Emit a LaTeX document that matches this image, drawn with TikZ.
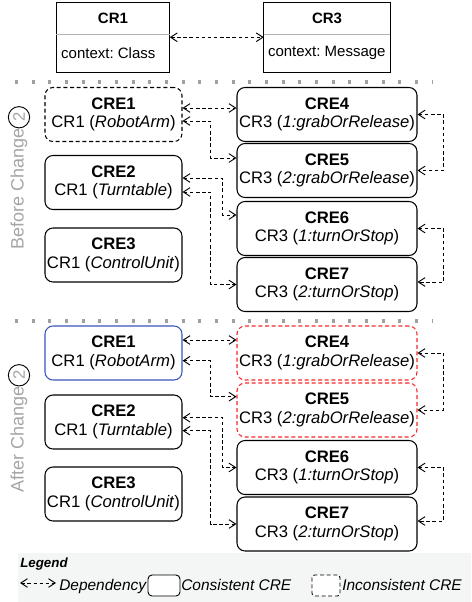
\documentclass[tikz,border=0pt]{standalone}
\usepackage{fontspec}
\setmainfont{Liberation Sans}
\frenchspacing
\usetikzlibrary{arrows.meta}
\usetikzlibrary{calc}
\definecolor{phasegray}{RGB}{165,165,165}
\definecolor{sepgray}{RGB}{160,160,160}
\definecolor{legendbg}{RGB}{244,245,245}
\definecolor{selblue}{RGB}{55,85,185}
\definecolor{errred}{RGB}{245,40,40}
\tikzset{
    dep/.style={
        draw, line width=0.7pt, dash pattern=on 2.6pt off 2pt,
        {Straight Barb[length=5pt,width=6.5pt]}-{Straight Barb[length=5pt,width=6.5pt]}
    },
    cre/.style={
        draw, rounded corners=6pt, line width=0.8pt, align=center,
        minimum height=40.5pt, inner sep=0pt,
        font=\fontsize{12.5}{14}\selectfont
    },
    creleft/.style={cre, minimum width=102.75pt},
    creright/.style={cre, minimum width=135pt},
    inconsistent/.style={dash pattern=on 3pt off 2pt},
    crhead/.style={minimum height=23.25pt, inner sep=0pt,
        font=\fontsize{11.25}{13}\selectfont\bfseries},
    crbody/.style={anchor=west, inner xsep=3.5pt, inner ysep=0pt,
        font=\fontsize{11.25}{13}\selectfont},
    phase/.style={rotate=90, inner sep=0pt, text=phasegray,
        font=\fontsize{13.5}{13.5}\selectfont},
    stepnum/.style={rotate=90, circle, draw, line width=0.7pt, inner sep=0pt,
        minimum size=16pt, text=phasegray, font=\fontsize{12.5}{12.5}\selectfont},
    sep/.style={draw=sepgray, line width=2.3pt, dash pattern=on 2.3pt off 10.2pt},
    legtxt/.style={inner sep=0pt, font=\fontsize{11.6}{12}\selectfont\itshape},
    legbox/.style={draw, fill=white, line width=0.7pt, minimum width=24pt,
        minimum height=15.75pt, inner sep=0pt}
}
\newcommand{\creNode}[6] {
	\node[#4] (#1) at (#2,#3) {\textbf{#5}\\#6};
}

\begin{document}
\begin{tikzpicture}[x=0.75pt,y=-0.75pt]
		\useasboundingbox (0,0) rectangle (471,602);

		% Legend background
		\fill[legendbg] (18,553) rectangle (471,602);

		% Context rules, header on top and context underneath
		\node[crhead, minimum width=84.75pt] (cr1) at (113,18.5) {CR1};
		\node[crbody] (cr1c) at ($(cr1.south west)+(0,19)$) {context: Class};
		\draw[line width=0.8pt] (cr1.north west) rectangle ($(cr1.south east)+(0,38)$);
		\draw[gray!60, line width=0.8pt] (cr1.south west) -- (cr1.south east);

		\node[crhead, minimum width=94.5pt] (cr3) at (327,18.5) {CR3};
		\node[crbody, inner xsep=3pt] (cr3c) at ($(cr3.south west)+(0,19)$) {context: Message};
		\draw[line width=0.8pt] (cr3.north west) rectangle ($(cr3.south east)+(0,38)$);
		\draw[gray!60, line width=0.8pt] (cr3.south west) -- (cr3.south east);

		\draw[dep] ($(cr1.south east)+(0,3)$) -- ($(cr3.south west)+(0,3)$);

		\draw[sep] (15,82) -- (432,82);

		% Before change
		\node[phase, anchor=west] (phB) at (19,250) {Before Change};
		\node[stepnum, anchor=west] (numB) at (phB.east) {2};

		\creNode{b1}{113.5}{114.5}{creleft, inconsistent}{CRE1}{CR1 (\textit{RobotArm})}
		\creNode{b2}{113.5}{182.5}{creleft}{CRE2}{CR1 (\textit{Turntable})}
		\creNode{b3}{113.5}{255}{creleft}{CRE3}{CR1 (\textit{ControlUnit})}
		\creNode{b4}{327}{114.5}{creright}{CRE4}{CR3 (\textit{1:grabOrRelease})}
		\creNode{b5}{327}{170.5}{creright}{CRE5}{CR3 (\textit{2:grabOrRelease})}
		\creNode{b6}{327}{228.5}{creright}{CRE6}{CR3 (\textit{1:turnOrStop})}
		\creNode{b7}{327}{284.5}{creright}{CRE7}{CR3 (\textit{2:turnOrStop})}

		\draw[dep] ($(b1.east)+(0,-6.5)$) -- ($(b4.west)+(0,-6.5)$);
		\draw[dep] ($(b1.east)+(0,6.5)$) -- ++(28,0) |- ($(b5.west)+(0,-12.5)$);
		\draw[dep] ($(b2.east)+(0,-4.5)$) -- ++(40,0) |- ($(b6.west)+(0,-13.5)$);
		\draw[dep] ($(b2.east)+(0,9.5)$) -- ++(28,0) |- (b7.west);
		\draw[dep] (b4.east) -- ++(26,0) |- (b5.east);
		\draw[dep] (b6.east) -- ++(26,0) |- ($(b7.east)+(0,-2.5)$);

		\draw[sep] (15,321) -- (432,321);

		% After change
		\node[phase, anchor=west] (phA) at (19,493) {After Change};
		\node[stepnum, anchor=west] (numA) at (phA.east) {2};

		\creNode{a1}{113.5}{353}{creleft, draw=selblue}{CRE1}{CR1 (\textit{RobotArm})}
		\creNode{a2}{113.5}{422}{creleft}{CRE2}{CR1 (\textit{Turntable})}
		\creNode{a3}{113.5}{494}{creleft}{CRE3}{CR1 (\textit{ControlUnit})}
		\creNode{a4}{327}{353}{creright, draw=errred, inconsistent}{CRE4}{CR3 (\textit{1:grabOrRelease})}
		\creNode{a5}{327}{410}{creright, draw=errred, inconsistent}{CRE5}{CR3 (\textit{2:grabOrRelease})}
		\creNode{a6}{327}{467.5}{creright}{CRE6}{CR3 (\textit{1:turnOrStop})}
		\creNode{a7}{327}{524}{creright}{CRE7}{CR3 (\textit{2:turnOrStop})}

		\draw[dep] ($(a1.east)+(0,-13)$) -- ($(a4.west)+(0,-13)$);
		\draw[dep] ($(a1.east)+(0,7.7)$) -- ++(28,0) |- ($(a5.west)+(0,-13.3)$);
		\draw[dep] ($(a2.east)+(0,-4.3)$) -- ++(40,0) |- (a6.west);
		\draw[dep] ($(a2.east)+(0,8.7)$) -- ++(28,0) |- (a7.west);
		\draw[dep] (a4.east) -- ++(26,0) |- (a5.east);
		\draw[dep] (a6.east) -- ++(26,0) |- ($(a7.east)+(0,-3)$);

		% Legend
		\node[legtxt, anchor=base west, font=\fontsize{10}{12}\selectfont\bfseries\itshape] (legend) at (20,567) {Legend};
		\coordinate (depL) at (20,583);
		\coordinate (depR) at (56,583);
		\draw[dep] (depL) -- (depR);
		\node[legtxt, anchor=base west] (depTxt) at (59,590) {Dependency};
		\node[legbox, rounded corners=3pt] (okBox) at (164,585.5) {};
		\node[legtxt, anchor=base west] (okTxt) at (181,590) {Consistent CRE};
		\node[legbox, inconsistent, minimum width=21pt, rounded corners=2pt] (badBox) at (326,585.5) {};
		\node[legtxt, anchor=base west] (badTxt) at (342,590) {Inconsistent CRE};

	\end{tikzpicture}
\end{document}
